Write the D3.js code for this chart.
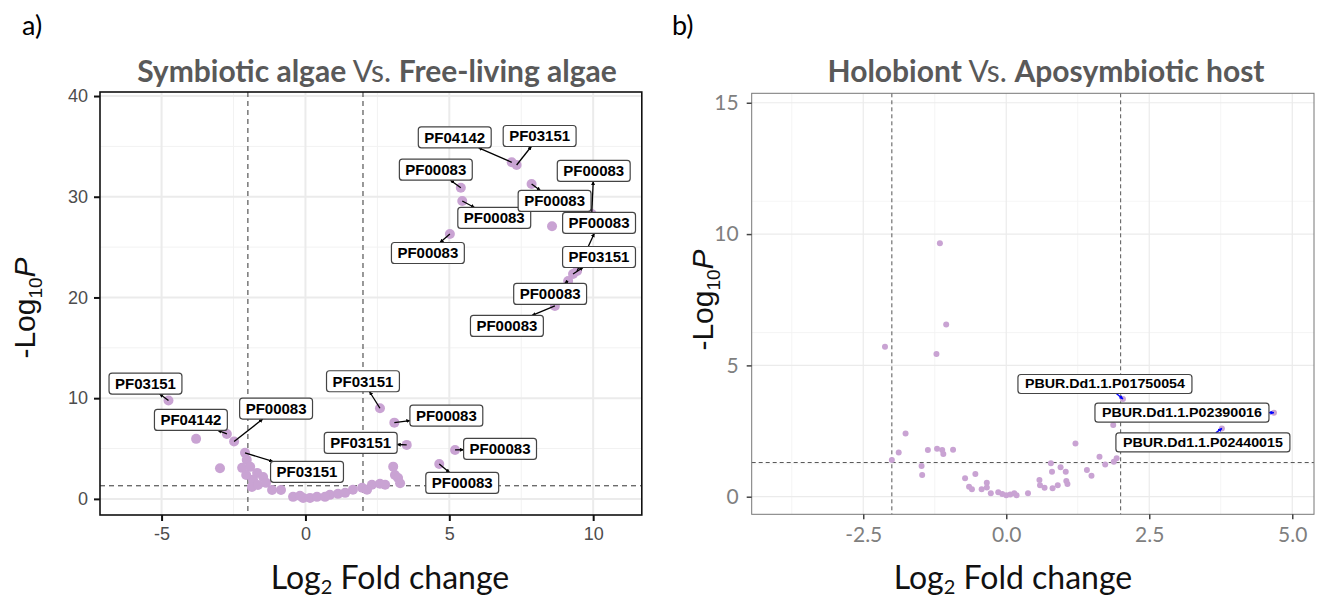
<!DOCTYPE html>
<html>
<head>
<meta charset="utf-8">
<script src="https://cdn.jsdelivr.net/npm/d3@7"></script>
<style>
  body { margin: 0; background: #fff; }
</style>
</head>
<body>
<svg id="chart" width="1323" height="603"></svg>
<script>
// ---- panel a) Symbiotic algae Vs. Free-living algae ----
const aLog2FC = [7.17, 7.34, 5.40, 5.45, 5.02, 7.86, 8.57, 9.95, 9.30, 9.44, 9.13, 8.67,
  -4.76, -2.73, -2.48, -3.80, -2.97, -2.10, -2.04, -2.20, -1.92, -1.68, -1.82, -1.47, -1.16,
  -2.06, -1.86, -1.65, -1.37, -0.85, -0.43, -0.08, 0.16, 0.40, 0.85, 1.13, 1.38, 1.65, 1.97,
  2.14, 2.31, 2.59, 2.77, -0.19, 0.68, 2.59, 3.09, 3.52, 5.20, 4.65, 3.05, 3.11, 3.22, 3.29];
const aLogP = [33.42, 33.15, 30.90, 29.58, 26.30, 31.27, 27.07, 28.29, 22.33, 22.63, 21.64, 19.16,
  9.76, 6.45, 5.69, 5.96, 3.05, 4.57, 3.87, 3.08, 3.18, 2.58, 1.89, 2.18, 0.89,
  2.38, 1.19, 1.39, 1.59, 0.89, 0.20, 0.10, 0.10, 0.20, 0.40, 0.50, 0.60, 0.90, 1.10,
  0.90, 1.40, 1.50, 1.40, 0.30, 0.20, 9.00, 7.57, 5.36, 4.86, 3.47, 3.20, 2.38, 2.08, 1.56];
const aLabelIdx = [0, 1, 2, 3, 4, 5, 7, 9, 8, 10, 11, 12, 13, 14, 17, 45, 46, 47, 48, 49];
const aLabelText = ["PF04142", "PF03151", "PF00083", "PF00083", "PF00083", "PF00083", "PF00083",
  "PF00083", "PF03151", "PF00083", "PF00083", "PF03151", "PF04142", "PF00083", "PF03151",
  "PF03151", "PF00083", "PF03151", "PF00083", "PF00083"];
const aXTicks = [-5, 0, 5, 10];
const aYTicks = [0, 10, 20, 30, 40];

// ---- panel b) Holobiont Vs. Aposymbiotic host ----
const bLog2FC = [-2.12, -1.22, -2.00, -1.88, -1.76, -1.48, -1.47, -1.37, -1.21, -1.12, -1.10, -0.93,
  -0.72, -0.65, -0.60, -0.54, -0.43, -0.34, -0.34, -0.27, -0.14, -0.07, 0.00, 0.07, 0.14, 0.18,
  0.38, 0.58, 0.59, 0.67, 0.78, 0.80, 0.81, 0.90, 0.95, 1.04, 1.05, 1.07, 1.21, 1.41, 1.49,
  1.63, 1.73, 1.87, 1.88, 1.93, 2.04, 3.77, 4.68, -1.16, -1.05];
const bLogP = [5.71, 5.43, 1.40, 1.68, 2.41, 1.17, 0.83, 1.78, 1.83, 1.78, 1.63, 1.79,
  0.70, 0.38, 0.28, 0.86, 0.28, 0.53, 0.35, 0.13, 0.17, 0.10, 0.06, 0.08, 0.13, 0.06,
  0.13, 0.64, 0.44, 0.34, 1.27, 0.95, 0.32, 0.44, 1.12, 0.95, 0.60, 0.48, 2.03, 1.02, 0.80,
  1.52, 1.23, 2.73, 1.33, 1.46, 3.72, 2.60, 3.20, 9.65, 6.56];
const bLabelIdx = [46, 48, 47];
const bLabelText = ["PBUR.Dd1.1.P01750054", "PBUR.Dd1.1.P02390016", "PBUR.Dd1.1.P02440015"];
const bXTicks = [-2.5, 0, 2.5, 5];
const bYTicks = [0, 5, 10, 15];

// label placement (ggrepel result), pixel offset of label centre from its point
const aLabelNudge = [[-57, -25], [23, -29], [-25, -18], [32, 17], [-22, 19], [23, 17], [2, -43],
  [22, -48], [26, -17], [-18, 13], [-48, 20], [-23, -17], [-36, -14], [42, -33], [62, 19],
  [-17, -27], [52, -7], [-46, -2], [45, -1], [23, 19]];
const bLabelNudge = [[-18, -15], [-92, 0], [-19, 14]];

const pointColor = "#c9a3d3";
const svg = d3.select("#chart");

const defs = svg.append("defs");
function addArrow(id, color) {
  defs.append("marker")
    .attr("id", id)
    .attr("viewBox", "0 0 10 10")
    .attr("refX", 9).attr("refY", 5)
    .attr("markerWidth", 4).attr("markerHeight", 4)
    .attr("markerUnits", "userSpaceOnUse")
    .attr("orient", "auto")
    .append("path")
    .attr("d", "M0,0 L10,5 L0,10 z")
    .attr("fill", color);
}
addArrow("arrowBlack", "#000");
addArrow("arrowBlue", "#0000ff");

function drawPanel(opt) {
  let x = d3.scaleLinear().domain(opt.xDomain).range(opt.xRange);
  let y = d3.scaleLinear().domain(opt.yDomain).range(opt.yRange);
  let g = svg.append("g");
  let [x0, x1] = opt.xRange, [y1, y0] = opt.yRange;

  g.append("rect").attr("x", x0).attr("y", y0).attr("width", x1 - x0).attr("height", y1 - y0)
    .attr("fill", "#fff");

  // minor + major grid
  let xMinor = opt.xTicks.map(t => t - opt.xStep / 2).concat([opt.xTicks[opt.xTicks.length - 1] + opt.xStep / 2])
    .filter(t => t > opt.xDomain[0] && t < opt.xDomain[1]);
  let yMinor = opt.yTicks.map(t => t + opt.yStep / 2).filter(t => t > opt.yDomain[0] && t < opt.yDomain[1]);
  g.selectAll(".xminor").data(xMinor).enter().append("line")
    .attr("x1", d => x(d)).attr("x2", d => x(d)).attr("y1", y0).attr("y2", y1)
    .attr("stroke", "#f2f2f2").attr("stroke-width", opt.minorW);
  g.selectAll(".yminor").data(yMinor).enter().append("line")
    .attr("y1", d => y(d)).attr("y2", d => y(d)).attr("x1", x0).attr("x2", x1)
    .attr("stroke", "#f2f2f2").attr("stroke-width", opt.minorW);
  g.selectAll(".xmajor").data(opt.xTicks).enter().append("line")
    .attr("x1", d => x(d)).attr("x2", d => x(d)).attr("y1", y0).attr("y2", y1)
    .attr("stroke", "#ebebeb").attr("stroke-width", opt.majorW);
  g.selectAll(".ymajor").data(opt.yTicks).enter().append("line")
    .attr("y1", d => y(d)).attr("y2", d => y(d)).attr("x1", x0).attr("x2", x1)
    .attr("stroke", "#ebebeb").attr("stroke-width", opt.majorW);

  // cut-off lines
  [-2, 2].forEach(v => {
    g.append("line").attr("x1", x(v)).attr("x2", x(v)).attr("y1", y0).attr("y2", y1)
      .attr("stroke", opt.dashColor).attr("stroke-width", 1).attr("stroke-dasharray", opt.dash);
  });
  g.append("line").attr("y1", y(-Math.log10(0.05))).attr("y2", y(-Math.log10(0.05)))
    .attr("x1", x0).attr("x2", x1)
    .attr("stroke", opt.dashColor).attr("stroke-width", 1).attr("stroke-dasharray", opt.dash);

  // points
  let pts = opt.fc.map((d, i) => ({ fc: d, p: opt.logp[i] }));
  g.selectAll(".pt").data(pts).enter().append("circle")
    .attr("cx", d => x(d.fc)).attr("cy", d => y(d.p)).attr("r", opt.r)
    .attr("fill", pointColor);

  // border
  g.append("rect").attr("x", x0).attr("y", y0).attr("width", x1 - x0).attr("height", y1 - y0)
    .attr("fill", "none").attr("stroke", opt.borderColor).attr("stroke-width", opt.borderW);

  // axes
  let xAxis = d3.axisBottom(x).tickValues(opt.xTicks).tickFormat(opt.xFormat)
    .tickSizeOuter(0).tickSizeInner(opt.tickLen).tickPadding(opt.tickPad);
  let yAxis = d3.axisLeft(y).tickValues(opt.yTicks).tickFormat(d => String(d))
    .tickSizeOuter(0).tickSizeInner(opt.tickLen).tickPadding(opt.tickPad);
  let gx = g.append("g").attr("transform", "translate(0," + y1 + ")").call(xAxis);
  let gy = g.append("g").attr("transform", "translate(" + x0 + ",0)").call(yAxis);
  [gx, gy].forEach(a => {
    a.select(".domain").remove();
    a.selectAll(".tick line").attr("stroke", opt.tickColor).attr("stroke-width", opt.tickW);
    a.selectAll(".tick text").attr("fill", opt.tickTextColor)
      .style("font-family", opt.tickFont).style("font-size", opt.tickSize + "px");
  });

  // labels
  let lab = g.append("g");
  opt.labelIdx.forEach((pi, k) => {
    let sx = x(opt.fc[pi]), sy = y(opt.logp[pi]);
    let cx = sx + opt.nudge[k][0], cy = sy + opt.nudge[k][1];
    let t = lab.append("text").text(opt.labelText[k])
      .attr("x", cx).attr("y", cy)
      .attr("text-anchor", "middle").attr("dy", "0.36em")
      .style("font-family", "'Liberation Sans', Arial, sans-serif")
      .style("font-weight", "bold").style("font-size", opt.labelSize + "px");
    if (opt.labelLen) t.attr("textLength", opt.labelLen).attr("lengthAdjust", "spacingAndGlyphs");
    let w = (opt.labelLen || t.node().getComputedTextLength()) + opt.labelPad * 2;
    let h = opt.labelH;
    // segment from point to the box edge
    let vx = sx - cx, vy = sy - cy;
    let s = Math.min(vx !== 0 ? (w / 2) / Math.abs(vx) : Infinity, vy !== 0 ? (h / 2) / Math.abs(vy) : Infinity);
    if (s < 1) {
      let ex = cx + vx * s, ey = cy + vy * s;
      if (opt.segColor === "#000") {
        lab.insert("line", "text").attr("x1", sx).attr("y1", sy).attr("x2", ex).attr("y2", ey)
          .attr("stroke", "#000").attr("stroke-width", 1.3).attr("marker-end", "url(#arrowBlack)");
      } else {
        lab.insert("line", "text").attr("x1", ex).attr("y1", ey).attr("x2", sx).attr("y2", sy)
          .attr("stroke", opt.segColor).attr("stroke-width", 1.5).attr("marker-end", "url(#arrowBlue)");
      }
    }
    lab.insert("rect", "text").attr("x", cx - w / 2).attr("y", cy - h / 2).attr("width", w).attr("height", h)
      .attr("rx", 3).attr("fill", "#fff").attr("stroke", "#444").attr("stroke-width", 1.2);
    lab.node().appendChild(t.node());
  });
  return g;
}

// panel a
drawPanel({
  xDomain: [-7.14, 11.69], xRange: [100, 641.8],
  yDomain: [-1.6, 40.4], yRange: [515, 92],
  xTicks: aXTicks, yTicks: aYTicks, xStep: 5, yStep: 10,
  xFormat: d => String(d),
  fc: aLog2FC, logp: aLogP, r: 5,
  labelIdx: aLabelIdx, labelText: aLabelText, nudge: aLabelNudge,
  labelSize: 15, labelPad: 6, labelH: 21, segColor: "#000",
  majorW: 2, minorW: 1, dash: "5,4", dashColor: "#333",
  borderColor: "#111", borderW: 1.6,
  tickLen: 6, tickW: 2, tickPad: 6, tickColor: "#111", tickTextColor: "#4d4d4d",
  tickFont: "'Liberation Sans', Arial, sans-serif", tickSize: 18
});

// panel b
drawPanel({
  xDomain: [-4.45, 5.38], xRange: [751.7, 1314],
  yDomain: [-0.67, 15.36], yRange: [514.3, 93.3],
  xTicks: bXTicks, yTicks: bYTicks, xStep: 2.5, yStep: 2.5,
  xFormat: d => d.toFixed(1),
  fc: bLog2FC, logp: bLogP, r: 3,
  labelIdx: bLabelIdx, labelText: bLabelText, nudge: bLabelNudge,
  labelSize: 12, labelLen: 160, labelPad: 7, labelH: 19, segColor: "#0000ff",
  majorW: 1.2, minorW: 0.8, dash: "4,3", dashColor: "#555",
  borderColor: "#777", borderW: 1,
  tickLen: 5, tickW: 1.5, tickPad: 8, tickColor: "#444", tickTextColor: "#7f7f7f",
  tickFont: "Lato, 'Open Sans', sans-serif", tickSize: 21
});

// titles and axis names
let fontCal = "Lato, 'Open Sans', sans-serif";
svg.append("text").attr("x", 22).attr("y", 35).text("a)")
  .style("font-family", fontCal).style("font-size", "27px");
svg.append("text").attr("x", 672).attr("y", 35).text("b)")
  .style("font-family", fontCal).style("font-size", "27px");

function title(cx, parts) {
  let t = svg.append("text").attr("x", cx).attr("y", 82).attr("text-anchor", "middle")
    .style("font-family", fontCal).style("font-size", "30px").attr("fill", "#595959");
  parts.forEach(p => t.append("tspan").text(p[0]).style("font-weight", p[1] ? "bold" : "normal"));
}
title(377, [["Symbiotic algae", 1], [" Vs. ", 0], ["Free-living algae", 1]]);
title(1046, [["Holobiont", 1], [" Vs. ", 0], ["Aposymbiotic host", 1]]);

function xTitle(cx) {
  let t = svg.append("text").attr("x", cx).attr("y", 589).attr("text-anchor", "middle")
    .style("font-family", fontCal).style("font-size", "32px").attr("fill", "#111");
  t.append("tspan").text("Log");
  t.append("tspan").text("2").style("font-size", "20px").attr("dy", 5);
  t.append("tspan").text(" Fold change").attr("dy", -5);
}
xTitle(390);
xTitle(1013);

function yTitle(cx, cy, font) {
  let t = svg.append("text").attr("transform", "translate(" + cx + "," + cy + ") rotate(-90)")
    .attr("text-anchor", "middle")
    .style("font-family", font).style("font-size", "30px").attr("fill", "#111");
  t.append("tspan").text("-Log");
  t.append("tspan").text("10").style("font-size", "19px").attr("dy", 7);
  t.append("tspan").text("P").style("font-style", "italic").attr("dy", -7);
}
yTitle(35, 308, "'Liberation Sans', Arial, sans-serif");
yTitle(713, 300, "'Liberation Sans', Arial, sans-serif");
</script>
</body>
</html>
